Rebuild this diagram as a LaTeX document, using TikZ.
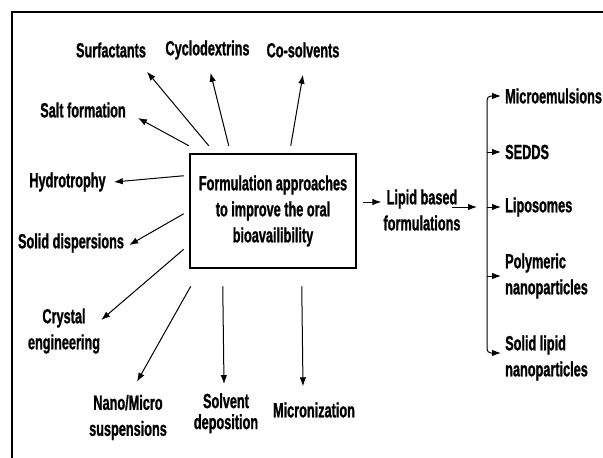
\documentclass[tikz,border=0pt]{standalone}
\usepackage{fontspec}
\setmainfont{Liberation Sans}[FakeStretch=0.62,BoldFeatures={FakeBold=1}]
\usetikzlibrary{arrows.meta,positioning}

\begin{document}
\begin{tikzpicture}[
    x=1pt, y=-1pt,
    >={Latex[length=9pt,width=6.5pt]},
    font=\fontsize{20.5pt}{26pt}\selectfont\bfseries,
    approach/.style={
        inner sep=0pt,
        align=center
    },
    mainbox/.style={
        rectangle,
        draw,
        line width=2.5pt,
        minimum width=166pt,
        minimum height=114pt,
        align=center
    },
    link/.style={->, line width=1pt}
]
\useasboundingbox (0,0) rectangle (603,458);
\draw[line width=2.5pt] (12,458) -- (12,12) -- (603,12);

\node[mainbox] (box) at (273,211) {Formulation approaches\\to improve the oral\\bioavailibility};

% approaches around the box
\node[approach] (surf) at (111,50) {Surfactants};
\node[approach] (cyclo) at (207.5,50) {Cyclodextrins};
\node[approach] (cosolv) at (303,50) {Co-solvents};
\node[approach] (salt) at (83,110) {Salt formation};
\node[approach] (hydro) at (67.5,182) {Hydrotrophy};
\node[approach] (soldisp) at (71,243) {Solid dispersions};
\node[approach] (crystal) at (64,331) {Crystal\\engineering};
\node[approach] (nano) at (128,417.5) {Nano/Micro\\suspensions};
\node[approach, font=\fontsize{20.5pt}{21pt}\selectfont\bfseries] (solvent) at (226,413.3) {Solvent\\deposition};
\node[approach] (micron) at (314,410) {Micronization};

\draw[link] ([shift={(20,-7)}]box.north west) -- ([shift={(36,14)}]surf.south);
\draw[link] ([shift={(40,-7)}]box.north west) -- ([shift={(3,13)}]cyclo.south);
\draw[link] ([shift={(102,-7)}]box.north west) -- ([shift={(0,17)}]cosolv.south);
\draw[link] ([shift={(0,-7)}]box.north west) -- ([shift={(12,8)}]salt.east);
\draw[link] ([shift={(-5,23)}]box.north west) -- ([xshift=8pt]hydro.east);
\draw[link] ([shift={(-5,61)}]box.north west) -- ([shift={(5,2)}]soldisp.east);
\draw[link] ([shift={(-5,-20)}]box.south west) -- ([shift={(1,-11)}]crystal.east);
\draw[link] ([shift={(2,17)}]box.south west) -- ([shift={(9,-13)}]nano.north);
\draw[link] ([shift={(34,17)}]box.south west) -- ([shift={(-2,-9)}]solvent.north);
\draw[link] ([shift={(113,17)}]box.south west) -- ([shift={(-11,-16)}]micron.north);

% lipid based branch
\node[approach] (lipid) at (422,210) {Lipid based\\formulations};
\coordinate (fork) at (487,207);
\node[approach, anchor=west] (microem) at (505,96) {Microemulsions};
\node[approach, anchor=west] (sedds) at (505,152) {SEDDS};
\node[approach, anchor=west] (lipo) at (505,207) {Liposomes};
\node[approach, anchor=west, align=left] (poly) at (505,276) {Polymeric\\nanoparticles};
\node[approach, anchor=west, align=left] (solidlip) at (505,358) {Solid lipid\\nanoparticles};

\draw[link] ([shift={(6,-9)}]box.east) -- ([shift={(-2,-8)}]lipid.west);
\draw[link] ([shift={(-9,-3)}]lipid.east) -- ([xshift=-10pt]fork);
\draw[link, rounded corners=4pt] (fork) |- ([xshift=-4pt]microem.west);
\draw[link, rounded corners=4pt] (fork) |- ([shift={(-4,-5)}]solidlip.west);
\draw[link] (fork |- sedds.west) -- ([xshift=-4pt]sedds.west);
\draw[link] (fork) -- ([xshift=-4pt]lipo.west);
\draw[link] (fork |- poly.west) -- ([xshift=-4pt]poly.west);
\end{tikzpicture}
\end{document}
